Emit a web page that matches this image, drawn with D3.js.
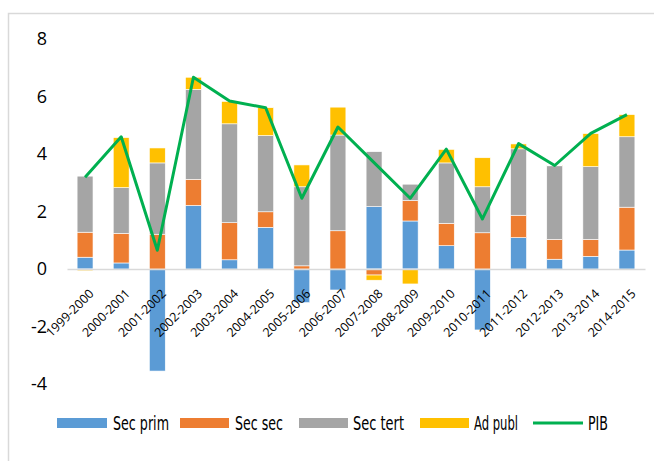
<!DOCTYPE html>
<html><head><meta charset="utf-8">
<script src="https://cdn.jsdelivr.net/npm/d3@7/dist/d3.min.js"></script>
<style>
html,body{margin:0;padding:0;background:#fff;}
svg{display:block;}
</style></head>
<body>
<script>
const categories = ["1999-2000","2000-2001","2001-2002","2002-2003","2003-2004","2004-2005","2005-2006","2006-2007","2007-2008","2008-2009","2009-2010","2010-2011","2011-2012","2012-2013","2013-2014","2014-2015"];
const secPrim = [0.41, 0.21, -3.55, 2.21, 0.32, 1.45, -1.17, -0.73, 2.17, 1.67, 0.81, -2.12, 1.09, 0.34, 0.44, 0.66];
const secSec  = [0.87, 1.03, 1.21, 0.91, 1.29, 0.54, 0.11, 1.33, -0.21, 0.71, 0.78, 1.26, 0.78, 0.69, 0.59, 1.49];
const secTert = [1.95, 1.59, 2.48, 3.13, 3.44, 2.65, 2.75, 3.33, 1.91, 0.57, 2.10, 1.60, 2.31, 2.56, 2.53, 2.45];
const adPubl  = [-0.06, 1.74, 0.52, 0.42, 0.78, 0.97, 0.76, 0.97, -0.18, -0.52, 0.47, 1.01, 0.17, 0.02, 1.15, 0.77];
const pib     = [3.19, 4.6, 0.65, 6.67, 5.84, 5.61, 2.46, 4.94, 3.7, 2.46, 4.17, 1.74, 4.36, 3.6, 4.72, 5.37];
const yTicks  = [-4, -2, 0, 2, 4, 6, 8];
const seriesNames = ["Sec prim", "Sec sec", "Sec tert", "Ad publ"];
const seriesColors = ["#5B9BD5", "#ED7D31", "#A5A5A5", "#FFC000"];
const lineName = "PIB";
const lineColor = "#00B050";

const W = 654, H = 461;
const svg = d3.select("body").append("svg").attr("width", W).attr("height", H);

// frame
svg.append("rect").attr("x", 8.5).attr("y", 13.5).attr("width", 700).attr("height", 500)
  .attr("fill", "#fff").attr("stroke", "#D9D9D9").attr("stroke-width", 1.5);

const x = d3.scaleBand().domain(categories).range([67, 645]).paddingInner(0.56).paddingOuter(0.28);
const y = d3.scaleLinear().domain([-4, 8]).range([384, 39]);

const table = categories.map((c, i) => ({cat: c, "Sec prim": secPrim[i], "Sec sec": secSec[i], "Sec tert": secTert[i], "Ad publ": adPubl[i]}));
const stacked = d3.stack().keys(seriesNames).offset(d3.stackOffsetDiverging)(table);

// y axis labels (no line)
const yAxis = svg.append("g").attr("transform", "translate(47,0)")
  .call(d3.axisLeft(y).tickValues(yTicks).tickFormat(d => String(d)).tickSize(0).tickPadding(0));
yAxis.select(".domain").remove();
yAxis.selectAll("text").attr("font-family", "'Open Sans', sans-serif").attr("font-size", 18).attr("fill", "#000");

// bars
stacked.forEach((s, si) => {
  svg.append("g").attr("fill", seriesColors[si])
    .selectAll("rect").data(s).join("rect")
    .attr("x", d => x(d.data.cat))
    .attr("width", x.bandwidth())
    .attr("y", d => y(Math.max(d[0], d[1])))
    .attr("height", d => Math.abs(y(d[0]) - y(d[1])))
    .attr("stroke", "#ffffff").attr("stroke-width", 0.6);
});

// zero axis
const xAxis = svg.append("g").attr("transform", `translate(0,${y(0)})`)
  .call(d3.axisBottom(x).tickSize(0).tickPadding(0));
xAxis.select(".domain").attr("stroke", "#D9D9D9").attr("stroke-width", 1.5);
xAxis.selectAll("text")
  .attr("font-family", "'Open Sans', sans-serif").attr("font-size", 12.5).attr("fill", "#000")
  .attr("text-anchor", "end")
  .attr("dy", "0")
  .attr("y", 0)
  .attr("transform", "translate(9.5,25.5) rotate(-45)");

// PIB line
const line = d3.line().x((d, i) => x(categories[i]) + x.bandwidth() / 2).y(d => y(d));
svg.append("path").datum(pib).attr("d", line).attr("fill", "none")
  .attr("stroke", lineColor).attr("stroke-width", 3).attr("stroke-linejoin", "round");

// legend
const legFont = "'DejaVu Sans Condensed', 'DejaVu Sans', sans-serif";
const legItems = [
  {name: seriesNames[0], color: seriesColors[0], sx: 57, sw: 50, tx: 113, tw: 56, type: "rect"},
  {name: seriesNames[1], color: seriesColors[1], sx: 180, sw: 49, tx: 235, tw: 48, type: "rect"},
  {name: seriesNames[2], color: seriesColors[2], sx: 299, sw: 49, tx: 353, tw: 51, type: "rect"},
  {name: seriesNames[3], color: seriesColors[3], sx: 420, sw: 49, tx: 474, tw: 44, type: "rect"},
  {name: lineName, color: lineColor, sx: 533, sw: 50, tx: 588, tw: 20, type: "line"}
];
const leg = svg.append("g");
legItems.forEach(it => {
  if (it.type === "rect") {
    leg.append("rect").attr("x", it.sx).attr("y", 418).attr("width", it.sw).attr("height", 10).attr("fill", it.color);
  } else {
    leg.append("line").attr("x1", it.sx).attr("x2", it.sx + it.sw).attr("y1", 423).attr("y2", 423)
      .attr("stroke", it.color).attr("stroke-width", 3);
  }
  leg.append("text").attr("x", it.tx).attr("y", 429.5).text(it.name)
    .attr("font-family", legFont).attr("font-size", 19).attr("fill", "#000")
    .attr("textLength", it.tw).attr("lengthAdjust", "spacingAndGlyphs");
});
</script>
</body></html>
